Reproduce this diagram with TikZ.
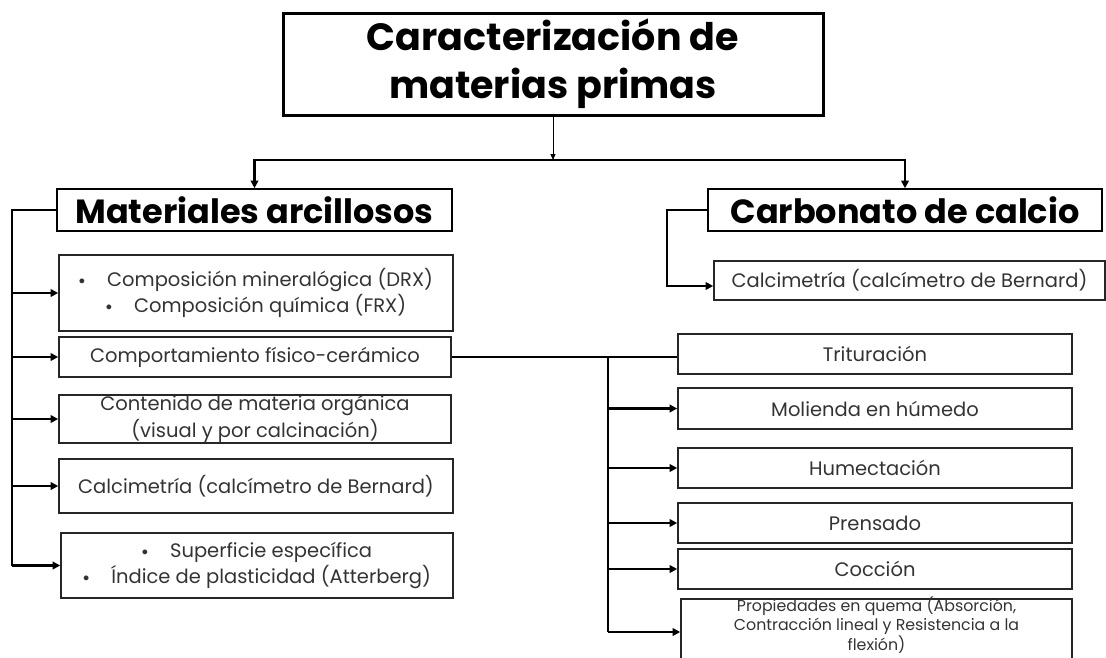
\documentclass[tikz,border=0pt]{standalone}
\usepackage{fontspec}
\setmainfont{Poppins}
\usetikzlibrary{arrows.meta}
\newcommand\bul{\raisebox{0.12em}{\scalebox{0.6}{$\bullet$}}}
\begin{document}
\begin{tikzpicture}[x=1pt,y=-1pt,
  box/.style={draw=black!85, line width=1.6pt, inner sep=0pt, align=center, text=black!80,
    font=\fontsize{19.5}{26}\selectfont},
  head/.style={draw=black, line width=1.6pt, inner sep=0pt, align=center, text=black,
    font=\fontsize{33.5}{36}\selectfont\bfseries},
  conn/.style={line width=2.6pt, black, line join=miter},
  tip/.style={-{Triangle[length=7.5pt,width=7.5pt]}}]
\useasboundingbox (0,0) rectangle (1106,657);
\clip (0,0) rectangle (1106,657);
% title
\node[draw=black, line width=3pt, minimum width=540pt, minimum height=102pt, inner sep=0pt,
  align=center, font=\fontsize{38}{48}\selectfont\bfseries] (title) at (553,64)
  {Caracterización de\\materias primas};
% heads
\node[head, minimum width=395pt, minimum height=42pt] (mat) at (254.5,210) {Materiales arcillosos};
\node[head, minimum width=394pt, minimum height=42pt] (carb) at (905,210) {Carbonato de calcio};
\node[box, minimum width=391pt, minimum height=39pt] (cal2) at (909.5,280.5) {Calcimetría (calcímetro de Bernard)};
% left column
\node[box, minimum width=394pt, minimum height=76pt] (b1) at (256,293)
  {\bul\hspace{22pt}Composición mineralógica (DRX)\\\bul\hspace{22pt}Composición química (FRX)};
\node[box, minimum width=392pt, minimum height=40pt] (b2) at (255,357) {Comportamiento físico-cerámico};
\node[box, minimum width=392pt, minimum height=48pt, font=\fontsize{19.5}{27}\selectfont] (b3) at (255,419)
  {Contenido de materia orgánica\\(visual y por calcinación)};
\node[box, minimum width=394pt, minimum height=54pt] (b4) at (256,486) {Calcimetría (calcímetro de Bernard)};
\node[box, minimum width=392pt, minimum height=65pt] (b5) at (257,565.5)
  {\bul\hspace{22pt}Superficie específica\\\bul\hspace{22pt}Índice de plasticidad (Atterberg)};
% right column
\node[box, minimum width=394pt, minimum height=40pt] (trit) at (875,354) {Trituración};
\node[box, minimum width=394pt, minimum height=41pt] (mol) at (875,408.5) {Molienda en húmedo};
\node[box, minimum width=394pt, minimum height=40pt] (hum) at (875,468) {Humectación};
\node[box, minimum width=394pt, minimum height=40pt] (pren) at (875,523) {Prensado};
\node[box, minimum width=394pt, minimum height=40pt] (coc) at (875,569) {Cocción};
\node[box, minimum width=391pt, minimum height=72pt, anchor=north] (prop) at (876.5,598) {};
\node[inner sep=0pt, align=center, text=black!80, font=\fontsize{15.8}{18.5}\selectfont] (propt) at (876.5,625)
  {Propiedades en quema (Absorción,\\Contracción lineal y Resistencia a la\\flexión)};
% connectors
\coordinate (j) at (553,160);
\draw[line width=1pt, -{Triangle[length=6pt,width=5pt]}] (title.south) -- (j);
\draw[conn, line width=2.2pt, tip] (j) -| (mat.north);
\draw[conn, line width=2.2pt, tip] (j) -| (carb.north);
% left spine
\coordinate (ls) at (12,566);
\draw[conn] (mat.west) -| (ls);
\draw[conn,tip] (ls |- b1.west) -- (b1.west);
\draw[conn,tip] (ls |- b2.west) -- (b2.west);
\draw[conn,tip] (ls |- b3.west) -- (b3.west);
\draw[conn,tip] (ls |- b4.west) -- (b4.west);
\draw[conn,tip] (ls |- b5.west) -- (b5.west);
% carbonato bracket
\coordinate (cs) at (667,286);
\draw[conn,tip] (carb.west) -| (cs) -- (cs -| cal2.west);
% right spine
\coordinate (rs) at (608,632);
\draw[conn] (b2.east) -- (b2.east -| trit.west);
\draw[conn] (b2.east -| rs) -- (rs);
\draw[conn,tip] (rs |- mol.west) -- (mol.west);
\draw[conn,tip] (rs |- hum.west) -- (hum.west);
\draw[conn,tip] (rs |- pren.west) -- (pren.west);
\draw[conn,tip] (rs |- coc.west) -- (coc.west);
\draw[conn,tip] (rs) -- (rs -| prop.west);
\end{tikzpicture}
\end{document}
